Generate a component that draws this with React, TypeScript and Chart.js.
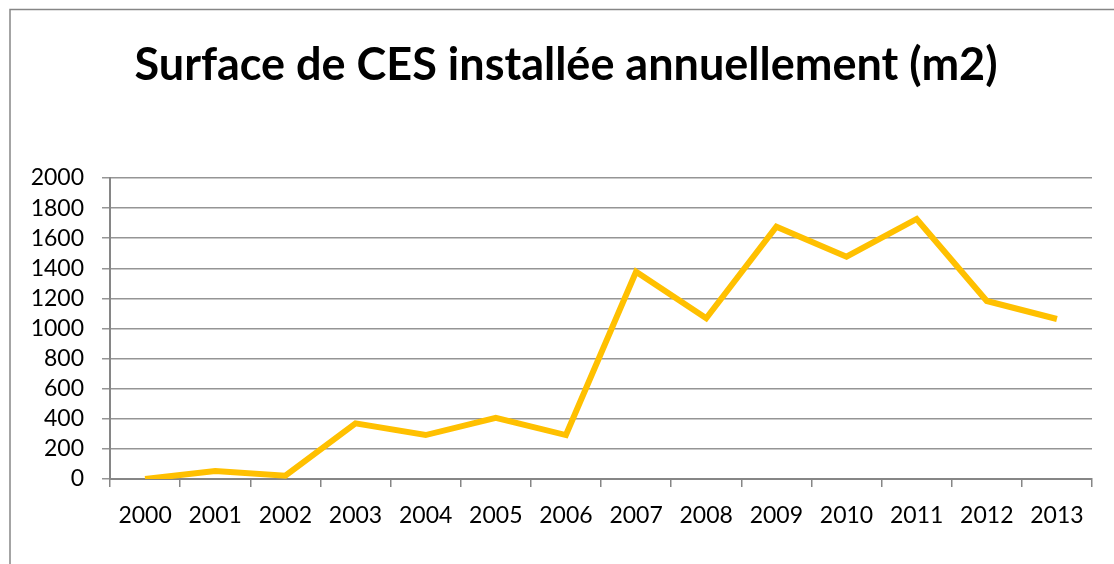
import React, { useEffect, useRef } from "react";
import { Chart, registerables } from "chart.js";

Chart.register(...registerables);

const TITLE = "Surface de CES installée annuellement (m2)";
const years = ["2000", "2001", "2002", "2003", "2004", "2005", "2006", "2007", "2008", "2009", "2010", "2011", "2012", "2013"];
const surface = [0, 53, 22, 370, 292, 407, 292, 1377, 1068, 1676, 1477, 1728, 1183, 1063];
const yMin = 0;
const yMax = 2000;
const yStep = 200;

const FONT = "Lato, 'Open Sans', sans-serif";

export default function App() {
  const ref = useRef<HTMLCanvasElement | null>(null);

  useEffect(() => {
    document.body.style.margin = "0";
    const canvas = ref.current;
    if (!canvas) return;

    const framePlugin = {
      id: "frameAndTitle",
      beforeDraw(chart: any) {
        const ctx = chart.ctx;
        ctx.save();
        ctx.fillStyle = "#ffffff";
        ctx.fillRect(0, 0, chart.width, chart.height);
        ctx.strokeStyle = "#868686";
        ctx.lineWidth = 1.5;
        ctx.strokeRect(10, 9.5, chart.width + 20, chart.height + 20);
        ctx.fillStyle = "#000000";
        ctx.font = `bold 45px ${FONT}`;
        ctx.textAlign = "center";
        ctx.textBaseline = "alphabetic";
        ctx.fillText(TITLE, 566, 80);
        ctx.restore();
      },
    };

    const chart = new Chart(canvas, {
      type: "line",
      data: {
        labels: years,
        datasets: [
          {
            label: "Surface",
            data: surface,
            borderColor: "#FFC000",
            backgroundColor: "#FFC000",
            borderWidth: 6,
            pointRadius: 0,
            tension: 0,
            fill: false,
          },
        ],
      },
      options: {
        animation: false,
        responsive: false,
        maintainAspectRatio: false,
        layout: { padding: { left: 0, right: 22, top: 178, bottom: 0 } },
        plugins: {
          legend: { display: false },
          title: { display: false },
          tooltip: { enabled: false },
        },
        scales: {
          x: {
            offset: true,
            grid: {
              offset: true,
              drawOnChartArea: false,
              drawTicks: true,
              tickLength: 8,
              color: "#868686",
              lineWidth: 1.5,
            },
            border: { color: "#868686", width: 2 },
            ticks: {
              color: "#000000",
              font: { family: FONT, size: 23 },
              padding: 15,
              maxRotation: 0,
              autoSkip: false,
            },
            afterFit(scale: any) {
              scale.height = 85;
            },
          },
          y: {
            min: yMin,
            max: yMax,
            grid: {
              color: "#959595",
              lineWidth: 1.5,
              tickLength: 8,
            },
            border: { color: "#868686", width: 2 },
            ticks: {
              stepSize: yStep,
              autoSkip: false,
              color: "#000000",
              font: { family: FONT, size: 23 },
              padding: 18,
              callback: (v: any) => String(v),
            },
            afterFit(scale: any) {
              scale.width = 110;
            },
          },
        },
      },
      plugins: [framePlugin],
    });

    return () => chart.destroy();
  }, []);

  return <canvas ref={ref} width={1114} height={564} style={{ display: "block" }} />;
}
